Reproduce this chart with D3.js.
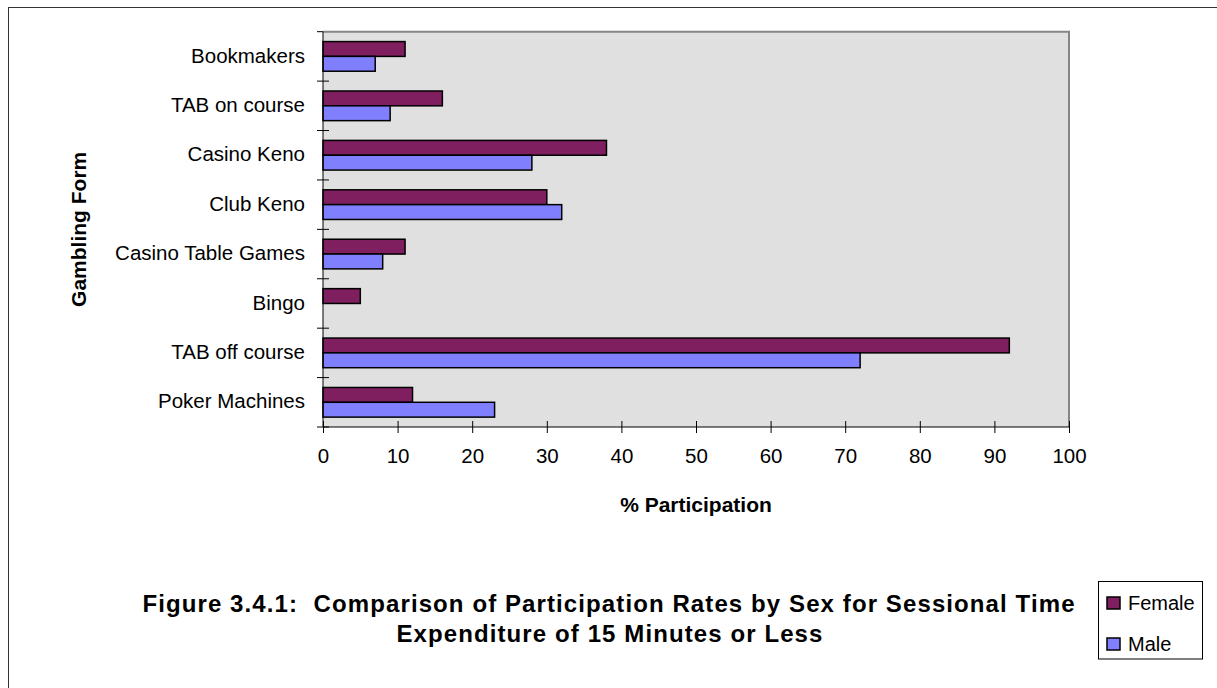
<!DOCTYPE html>
<html>
<head>
<meta charset="utf-8">
<script src="https://cdn.jsdelivr.net/npm/d3@7"></script>
<style>
  html, body { margin: 0; padding: 0; background: #fff; }
  svg { display: block; font-family: Arial, "Liberation Sans", sans-serif; }
</style>
</head>
<body>
<svg id="chart" width="1217" height="688"></svg>
<script>
// Gambling forms, listed top to bottom
const categories = [
  "Bookmakers", "TAB on course", "Casino Keno", "Club Keno",
  "Casino Table Games", "Bingo", "TAB off course", "Poker Machines"
];
const seriesNames = ["Female", "Male"];
// % participation for sessions of 15 minutes or less
const femaleValues = [11, 16, 38, 30, 11, 5, 92, 12];
const maleValues   = [7, 9, 28, 32, 8, 0, 72, 23];
const xTicks = [0, 10, 20, 30, 40, 50, 60, 70, 80, 90, 100];

const colors = { Female: "#7f1f5f", Male: "#8080ff" };

const svg = d3.select("#chart");

// outer frame
svg.append("rect")
  .attr("x", 8.5).attr("y", 7.5)
  .attr("width", 1230).attr("height", 700)
  .attr("fill", "none").attr("stroke", "#333").attr("stroke-width", 1);

const plot = { left: 323, right: 1069, top: 31.7, bottom: 427 };

const x = d3.scaleLinear().domain([0, 100]).range([plot.left, plot.right]);
const y = d3.scaleBand().domain(categories).range([plot.top, plot.bottom]).padding(0);
const ySub = d3.scaleBand().domain(seriesNames)
  .range([y.bandwidth() * 0.2, y.bandwidth() * 0.8]).padding(0);

// plot area background
svg.append("rect")
  .attr("x", plot.left).attr("y", plot.top)
  .attr("width", plot.right - plot.left).attr("height", plot.bottom - plot.top)
  .attr("fill", "#e0e0e0");

// top and right frame of plot area
svg.append("path")
  .attr("d", `M${plot.left},${plot.top}H${plot.right}V${plot.bottom}`)
  .attr("fill", "none").attr("stroke", "#858585").attr("stroke-width", 2);

// bars
const rows = categories.map((c, i) => ({
  category: c,
  values: [
    { series: "Female", value: femaleValues[i] },
    { series: "Male", value: maleValues[i] }
  ]
}));

const groups = svg.append("g").selectAll("g")
  .data(rows).join("g")
  .attr("transform", d => `translate(0,${y(d.category)})`);

groups.selectAll("rect")
  .data(d => d.values.filter(v => v.value > 0))
  .join("rect")
  .attr("x", x(0))
  .attr("y", d => ySub(d.series))
  .attr("width", d => x(d.value) - x(0))
  .attr("height", ySub.bandwidth())
  .attr("fill", d => colors[d.series])
  .attr("stroke", "#000")
  .attr("stroke-width", 1.5);

// x axis
const xAxis = svg.append("g")
  .attr("transform", `translate(0,${plot.bottom})`)
  .call(d3.axisBottom(x).tickValues(xTicks).tickSize(6).tickPadding(0).tickFormat(d3.format("d")));
xAxis.select(".domain").attr("stroke", "#000").attr("d", `M${plot.left},0H${plot.right}`);
xAxis.selectAll(".tick line").attr("y1", -6).attr("y2", 6).attr("stroke", "#000");
xAxis.selectAll(".tick text")
  .attr("y", 35.5).attr("dy", null)
  .attr("font-size", 20.5).attr("font-family", "Arial, 'Liberation Sans', sans-serif")
  .attr("fill", "#000");

// y axis: category labels and dividing ticks
const yAxis = svg.append("g");
yAxis.append("line")
  .attr("x1", plot.left).attr("x2", plot.left)
  .attr("y1", plot.top).attr("y2", plot.bottom)
  .attr("stroke", "#000");
const boundaries = categories.map(c => y(c)).concat([plot.bottom]);
yAxis.selectAll("line.tick")
  .data(boundaries).join("line")
  .attr("class", "tick")
  .attr("x1", plot.left - 6).attr("x2", (d, i) => i === 0 ? plot.left : plot.left + 6)
  .attr("y1", d => d).attr("y2", d => d)
  .attr("stroke", "#000");
yAxis.selectAll("text")
  .data(categories).join("text")
  .attr("x", 305)
  .attr("y", d => y(d) + y.bandwidth() / 2)
  .attr("dy", "0.3em")
  .attr("text-anchor", "end")
  .attr("font-size", 20.5)
  .attr("fill", "#000")
  .text(d => d);

// axis titles
svg.append("text")
  .attr("x", (plot.left + plot.right) / 2).attr("y", 512)
  .attr("text-anchor", "middle")
  .attr("font-size", 21).attr("font-weight", "bold")
  .text("% Participation");

svg.append("text")
  .attr("transform", `translate(86,${(plot.top + plot.bottom) / 2}) rotate(-90)`)
  .attr("text-anchor", "middle")
  .attr("font-size", 21).attr("font-weight", "bold")
  .text("Gambling Form");

// figure caption
const caption = svg.append("text")
  .attr("text-anchor", "middle")
  .attr("font-size", 24).attr("font-weight", "bold")
  .attr("letter-spacing", 1.1);
caption.append("tspan").attr("x", 609).attr("y", 612)
  .attr("xml:space", "preserve")
  .text("Figure 3.4.1:  Comparison of Participation Rates by Sex for Sessional Time");
caption.append("tspan").attr("x", 610).attr("y", 642)
  .text("Expenditure of 15 Minutes or Less");

// legend
const legend = svg.append("g");
legend.append("rect")
  .attr("x", 1098.5).attr("y", 581.5)
  .attr("width", 104).attr("height", 77.5)
  .attr("fill", "#fff").attr("stroke", "#000").attr("stroke-width", 1);
const legendItems = legend.selectAll("g")
  .data(seriesNames).join("g")
  .attr("transform", (d, i) => `translate(1107,${597 + i * 41})`);
legendItems.append("rect")
  .attr("width", 13).attr("height", 12)
  .attr("fill", d => colors[d]).attr("stroke", "#000").attr("stroke-width", 1.5);
legendItems.append("text")
  .attr("x", 21).attr("y", 6).attr("dy", "0.35em")
  .attr("font-size", 20)
  .text(d => d);
</script>
</body>
</html>
